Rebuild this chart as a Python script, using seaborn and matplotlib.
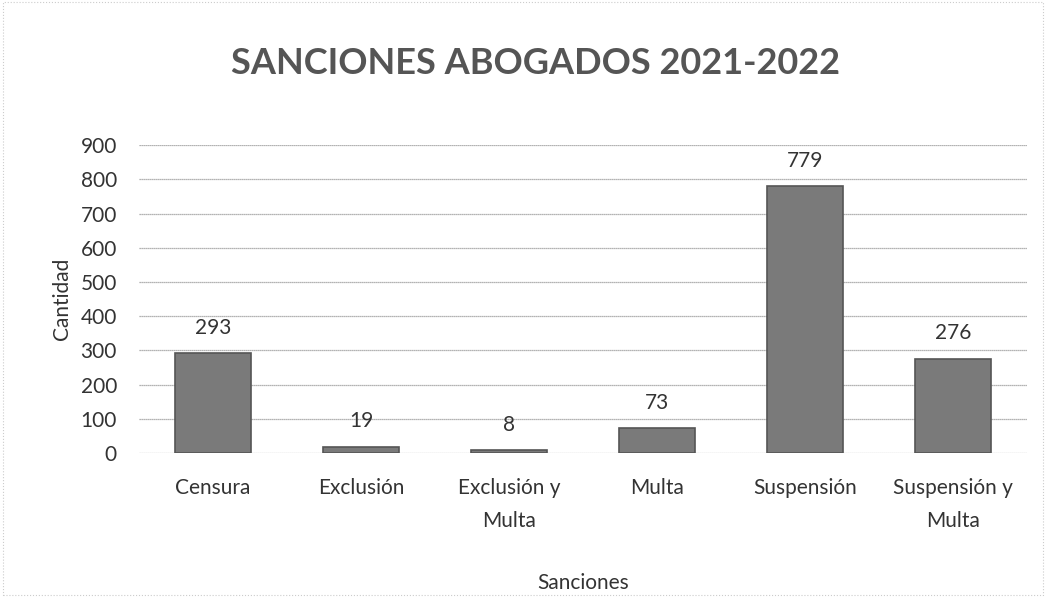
import matplotlib
matplotlib.use("Agg")
import matplotlib.pyplot as plt
import seaborn as sns
import pandas as pd

# data
sanciones = ["Censura", "Exclusión", "Exclusión y\nMulta", "Multa", "Suspensión", "Suspensión y\nMulta"]
cantidad = [293, 19, 8, 73, 779, 276]
yticks = [0, 100, 200, 300, 400, 500, 600, 700, 800, 900]

sns.set_style("white")
plt.rcParams['font.family'] = ['Lato', 'DejaVu Sans']

df = pd.DataFrame({"Sanciones": sanciones, "Cantidad": cantidad})

fig = plt.figure(figsize=(10.46, 5.97), dpi=100)
ax = fig.add_axes([0.133, 0.241, 0.849, 0.516])

sns.barplot(data=df, x="Sanciones", y="Cantidad", color="#7a7a7a", width=0.51,
            edgecolor="#555555", linewidth=1.2, saturation=1, ax=ax, zorder=3)

ax.set_ylim(0, 900)
ax.set_xlim(-0.5, 5.5)
ax.set_yticks(yticks)
ax.yaxis.grid(True, color="#9a9a9a", linewidth=0.9, linestyle=(0, (1, 0.6)), zorder=0)
ax.xaxis.grid(False)
for s in ax.spines.values():
    s.set_visible(False)
ax.tick_params(axis="both", length=0, labelsize=15, colors="#333333")
ax.tick_params(axis="y", pad=16)
ax.tick_params(axis="x", pad=18)
for t in ax.get_xticklabels():
    t.set_linespacing(1.8)

for c in ax.containers:
    ax.bar_label(c, padding=11, fontsize=15, color="#333333")

ax.set_xlabel("Sanciones", fontsize=15, color="#333333", labelpad=30)
ax.set_ylabel("Cantidad", fontsize=15, color="#333333", labelpad=6)

fig.text(0.512, 0.893, "SANCIONES ABOGADOS 2021-2022", ha="center", va="center",
         fontsize=26, fontweight="bold", color="#555555")

# thin border like the chart frame in the scan
fig.patches.append(plt.Rectangle((0.003, 0.003), 0.994, 0.994, transform=fig.transFigure,
                                 fill=False, edgecolor="#cccccc", linewidth=0.8, linestyle=":"))

fig.savefig("out.png", dpi=100)
